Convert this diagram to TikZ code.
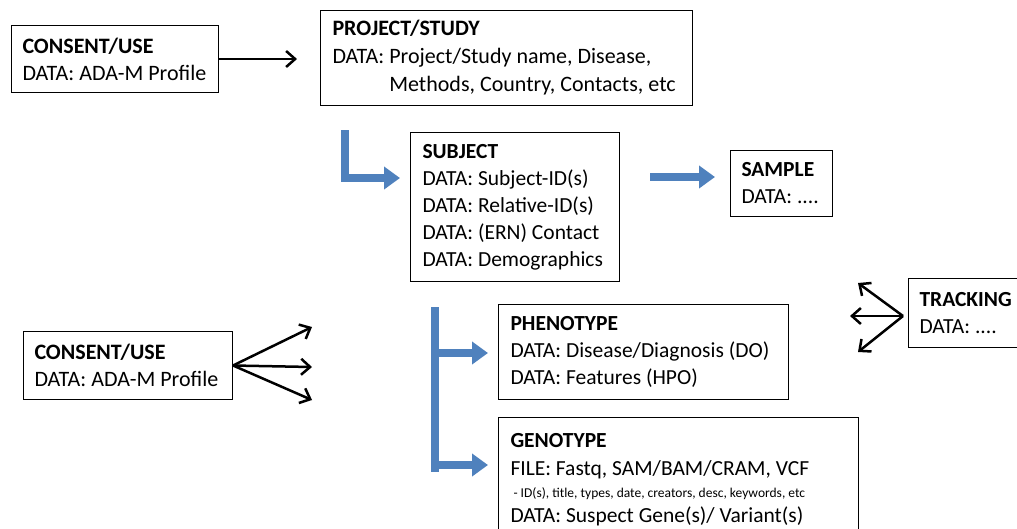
\documentclass[tikz,border=0pt]{standalone}
\usepackage{fontspec}
\setmainfont{Carlito}
\usetikzlibrary{arrows.meta, positioning}

\definecolor{flowblue}{RGB}{79,129,189}
\frenchspacing

\begin{document}
\begin{tikzpicture}[x=1pt, y=-1pt,
		box/.style={draw, line width=1pt, anchor=north west, align=flush left, inner xsep=11pt, inner ysep=0pt,
			font=\fontsize{21.5}{27}\selectfont},
		flow/.style={draw=flowblue, line width=8pt, -{Triangle[length=16pt, width=22pt]}},
		fan/.style={line width=2.5pt, -{Straight Barb[length=9pt, width=16pt]}}]
			\clip (0,0) rectangle (1017,528);
			% Boxes
			\node[box, font=\fontsize{22}{27}\selectfont, text width=185pt, minimum height=67pt] (consentTop) at (11,25)
				{\textbf{CONSENT/USE}\\DATA: ADA-M Profile};
			\node[box, font=\fontsize{22}{28}\selectfont, inner xsep=12pt, text width=348pt, minimum height=95pt] (project) at (320,10)
				{\textbf{PROJECT/STUDY}\\DATA: Project/Study name, Disease,\\\phantom{DATA: }Methods, Country, Contacts, etc};
			\node[box, inner xsep=12pt, text width=185pt, minimum height=149pt] (subject) at (410,132)
				{\textbf{SUBJECT}\\DATA: Subject-ID(s)\\DATA: Relative-ID(s)\\DATA: (ERN) Contact\\DATA: Demographics};
			\node[box, text width=80pt, minimum height=66pt] (sample) at (730,150)
				{\textbf{SAMPLE}\\DATA: ....};
			\node[box, text width=100pt, minimum height=69pt] (tracking) at (908,278)
				{\textbf{TRACKING}\\DATA: ....};
			\node[box, font=\fontsize{22}{27}\selectfont, text width=187pt, minimum height=68pt] (consentBot) at (23,331)
				{\textbf{CONSENT/USE}\\DATA: ADA-M Profile};
			\node[box, inner xsep=12pt, text width=266pt, minimum height=95pt] (phenotype) at (498,304)
				{\textbf{PHENOTYPE}\\DATA: Disease/Diagnosis (DO)\\DATA: Features (HPO)};
			\node[box, inner xsep=12pt, text width=336pt, minimum height=124pt] (genotype) at (498,417)
				{\textbf{GENOTYPE}\\[1pt]FILE: Fastq, SAM/BAM/CRAM, VCF\\[-5pt]
				{\fontsize{13.5}{15}\selectfont\ - ID(s), title, types, date, creators, desc, keywords, etc}\\[-2pt]
				DATA: Suspect Gene(s)/ Variant(s)};
			% Consent -> project
			\draw[fan, shorten >=23pt] (consentTop.east) -- (consentTop.east -| project.west);
			% Blue flow arrows
			\coordinate (lTop) at (345,130);
			\draw[flow] (lTop) |- ([xshift=-10pt]subject.west |- 0,178);
			\draw[flow] ([xshift=30pt]subject.east |- 0,177) -- ([xshift=-15pt]sample.west |- 0,177);
			\coordinate (bTop) at (435,307);
			\coordinate (bBot) at (435,472);
			\draw[draw=flowblue, line width=8pt] (bTop) -- (bBot);
			\draw[flow] ([xshift=-4pt]bTop |- 0,353) -- ([xshift=-10pt]phenotype.west |- 0,353);
			\draw[flow] ([xshift=-4pt]bTop |- 0,465) -- ([xshift=-10pt]genotype.west |- 0,465);
			% Consent fan
			\coordinate (cUp) at (312,327);
			\coordinate (cMid) at (312,367);
			\coordinate (cDown) at (312,400);
			\foreach \t in {cUp, cMid, cDown}
				\draw[fan] (consentBot.east) -- (\t);
			% Tracking fan
			\coordinate (tUp) at (858,283);
			\coordinate (tMid) at (850,316);
			\coordinate (tDown) at (858,352);
			\coordinate (tFrom) at (903,316);
			\foreach \t in {tUp, tMid, tDown}
				\draw[fan] (tFrom) -- (\t);
		\end{tikzpicture}
\end{document}
